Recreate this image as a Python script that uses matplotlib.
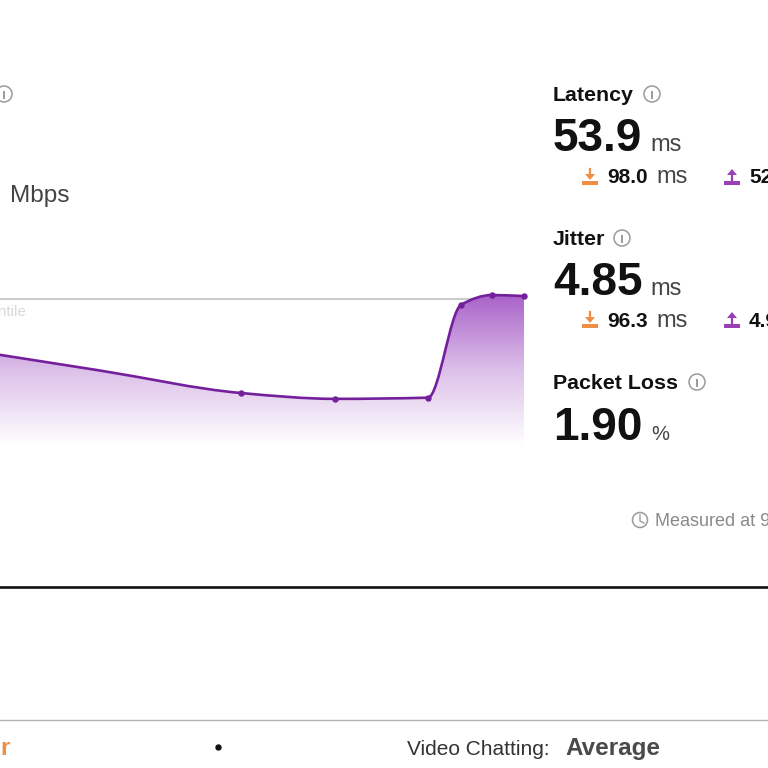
import numpy as np
import matplotlib
matplotlib.use("Agg")
import matplotlib.pyplot as plt
from matplotlib.patches import Circle, PathPatch, Polygon, Rectangle
from matplotlib.path import Path
from matplotlib.colors import LinearSegmentedColormap

plt.rcParams['font.family'] = ['Liberation Sans', 'DejaVu Sans']

# throughput curve, x is time and y is percent of the reference line
times = [-40, 100, 241, 335, 428, 461, 492, 524]
values = [66, 51, 35.6, 31.6, 32.4, 96, 102.7, 102]
marked_times = times[2:]
marked_values = values[2:]
reference_level = 100

latency = "53.9"
latency_down = "98.0"
latency_up = "52"
jitter = "4.85"
jitter_down = "96.3"
jitter_up = "4.9"
packet_loss = "1.90"

DARK = "#111111"
GREY = "#444444"
ORANGE = "#ee8f45"
PURPLE = "#9a3fb5"
ICON = "#9a9a9a"
LINE = "#74209c"


def smooth_path(x, y):
    # monotone tangents, then one bezier segment per pair of points
    x = np.array(x, dtype=float)
    y = np.array(y, dtype=float)
    h = np.diff(x)
    s = np.diff(y) / h
    m = np.zeros(len(x))
    m[0] = s[0]
    m[-1] = s[-1]
    for i in range(1, len(x) - 1):
        if s[i - 1] * s[i] > 0:
            m[i] = 2 * s[i - 1] * s[i] / (s[i - 1] + s[i])
    verts = [(x[0], y[0])]
    codes = [Path.MOVETO]
    for i in range(len(h)):
        verts.append((x[i] + h[i] / 3, y[i] + m[i] * h[i] / 3))
        verts.append((x[i + 1] - h[i] / 3, y[i + 1] - m[i + 1] * h[i] / 3))
        verts.append((x[i + 1], y[i + 1]))
        codes += [Path.CURVE4] * 3
    return verts, codes


fig = plt.figure(figsize=(7.68, 7.68), dpi=100, facecolor="white")

# page layer in pixels
page = fig.add_axes([0, 0, 1, 1])
page.set_xlim(0, 768)
page.set_ylim(768, 0)
page.axis("off")

# chart layer, from x 0 to 524 and y 280 to 445 in pixels
chart = fig.add_axes([0, (768 - 445) / 768, 524 / 768, 165 / 768])
chart.set_xlim(0, 524)
chart.set_ylim(0, 113)
chart.axis("off")
chart.patch.set_alpha(0)

chart.axhline(reference_level, color="#c6c6c6", lw=1.3, zorder=1)

verts, codes = smooth_path(times, values)
fill_verts = verts + [(times[-1], 0), (times[0], 0), (times[0], values[0])]
fill_codes = codes + [Path.LINETO, Path.LINETO, Path.CLOSEPOLY]
fill_patch = PathPatch(Path(fill_verts, fill_codes), fc="none", ec="none",
                       transform=chart.transData)
chart.add_patch(fill_patch)

cmap = LinearSegmentedColormap.from_list("fade", ["#ffffff", "#dcbfe9", "#a860c8"])
grad = np.linspace(1, 0, 256).reshape(-1, 1)
img = chart.imshow(grad, cmap=cmap, vmin=0, vmax=1, extent=[0, 524, 0, 104],
                   aspect="auto", zorder=2)
img.set_clip_path(fill_patch)
chart.set_xlim(0, 524)
chart.set_ylim(0, 113)

chart.add_patch(PathPatch(Path(verts, codes), fc="none", ec=LINE, lw=1.9,
                          capstyle="round", zorder=3))
chart.plot(marked_times, marked_values, "o", color=LINE, ms=3.6,
           clip_on=False, zorder=4)


def label(x, y, s, size, color=DARK, bold=False, ha="left"):
    page.text(x, y, s, fontsize=size, color=color, ha=ha, va="baseline",
              fontweight="bold" if bold else "normal")


def info_icon(x, y):
    page.add_patch(Circle((x, y), 8, fc="white", ec=ICON, lw=1.1))
    page.plot([x, x], [y - 3, y + 4.5], color=ICON, lw=1.4, solid_capstyle="butt")


def transfer_icon(x, y, color, up):
    page.add_patch(Rectangle((x - 8, y + 4), 16, 4, fc=color, ec="none"))
    if up:
        page.add_patch(Polygon([(x, y - 8), (x + 5, y - 2), (x - 5, y - 2)], fc=color, ec="none"))
        page.plot([x, x], [y - 3, y + 5], color=color, lw=1.6)
    else:
        page.add_patch(Polygon([(x, y + 3), (x + 5, y - 3), (x - 5, y - 3)], fc=color, ec="none"))
        page.plot([x, x], [y - 8, y - 2], color=color, lw=1.6)


# left side, only the ends of these are in view
info_icon(4, 94)
label(10, 202, "Mbps", 17.6, GREY)
label(27, 316, "Percentile", 11, "#d8d8d8", ha="right")

# latency
label(553, 101, "Latency", 15.4, bold=True)
info_icon(652, 94)
label(553, 151, latency, 33, bold=True)
label(650, 151, "ms", 17, GREY)
transfer_icon(590, 177, ORANGE, False)
label(607, 183, latency_down, 15, bold=True)
label(656, 183, "ms", 17, GREY)
transfer_icon(732, 177, PURPLE, True)
label(749, 183, latency_up, 15, bold=True)

# jitter
label(553, 245, "Jitter", 15.4, bold=True)
info_icon(622, 238)
label(553, 295, jitter, 33, bold=True)
label(650, 295, "ms", 17, GREY)
transfer_icon(590, 320, ORANGE, False)
label(607, 327, jitter_down, 15, bold=True)
label(656, 327, "ms", 17, GREY)
transfer_icon(732, 320, PURPLE, True)
label(749, 327, jitter_up, 15, bold=True)

# packet loss
label(553, 389, "Packet Loss", 15.4, bold=True)
info_icon(697, 382)
label(553, 440, packet_loss, 33, bold=True)
label(651, 440, "%", 14.5, GREY)

# measured time
page.add_patch(Circle((640, 520), 7.5, fc="white", ec=ICON, lw=1.1))
page.plot([640, 640, 644], [515, 521, 523], color=ICON, lw=1)
label(655, 526, "Measured at 9", 13, "#8a8a8a")

# separators
page.plot([0, 768], [587, 587], color="#111111", lw=1.9)
page.plot([0, 768], [720, 720], color="#b4b4b4", lw=1)

# bottom row
label(0, 755, "r", 17.5, ORANGE, bold=True)
page.plot([218], [747], "o", color="#111111", ms=3.6)
label(407, 755, "Video Chatting:", 15, "#333333")
label(565, 755, "Average", 17.5, "#4a4a4a", bold=True)

fig.savefig("out.png", dpi=100)
